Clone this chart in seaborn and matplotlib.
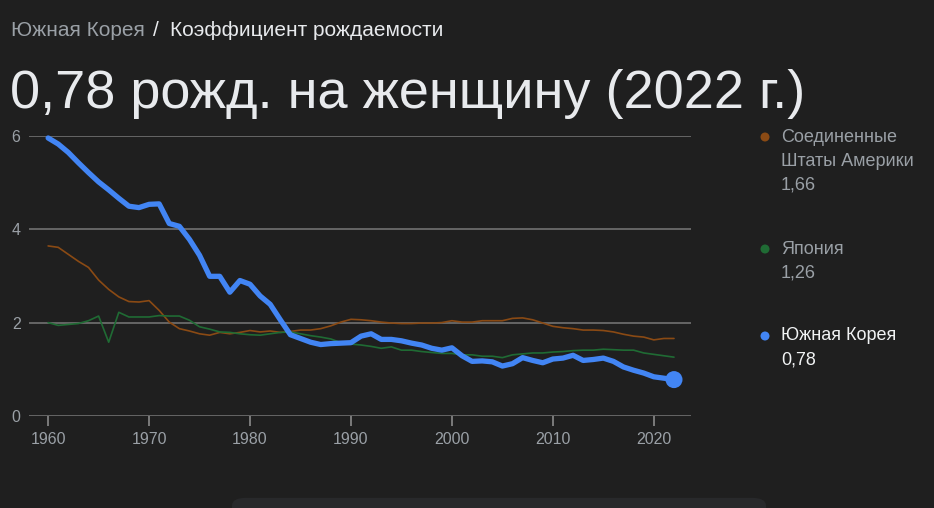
import pandas as pd
import matplotlib.pyplot as plt
import seaborn as sns
from matplotlib.patches import FancyBboxPatch, Ellipse

# Данные
years = list(range(1960, 2023))

korea = [5.95, 5.82, 5.64, 5.42, 5.21, 5.01, 4.84, 4.66, 4.49, 4.46,
         4.53, 4.54, 4.12, 4.06, 3.78, 3.44, 2.99, 2.99, 2.65, 2.90,
         2.82, 2.57, 2.39, 2.06, 1.74, 1.66, 1.58, 1.53, 1.55, 1.56,
         1.57, 1.71, 1.76, 1.64, 1.64, 1.61, 1.56, 1.52, 1.45, 1.41,
         1.46, 1.29, 1.17, 1.18, 1.16, 1.07, 1.12, 1.25, 1.19, 1.14,
         1.22, 1.24, 1.30, 1.19, 1.21, 1.24, 1.17, 1.05, 0.98, 0.92,
         0.84, 0.81, 0.78]

usa = [3.64, 3.61, 3.46, 3.31, 3.18, 2.91, 2.71, 2.55, 2.45, 2.44,
       2.47, 2.26, 2.01, 1.87, 1.82, 1.76, 1.73, 1.79, 1.76, 1.79,
       1.83, 1.80, 1.82, 1.79, 1.81, 1.84, 1.84, 1.87, 1.93, 2.01,
       2.07, 2.06, 2.04, 2.01, 1.99, 1.98, 1.98, 1.99, 1.99, 2.00,
       2.04, 2.01, 2.01, 2.04, 2.04, 2.04, 2.09, 2.10, 2.06, 1.99,
       1.92, 1.89, 1.87, 1.84, 1.84, 1.83, 1.80, 1.75, 1.71, 1.69,
       1.63, 1.66, 1.66]

japan = [2.00, 1.94, 1.96, 1.98, 2.04, 2.14, 1.58, 2.22, 2.12, 2.12,
         2.12, 2.15, 2.14, 2.14, 2.05, 1.91, 1.86, 1.80, 1.79, 1.76,
         1.74, 1.73, 1.76, 1.79, 1.80, 1.76, 1.72, 1.69, 1.65, 1.57,
         1.54, 1.52, 1.49, 1.45, 1.48, 1.41, 1.41, 1.38, 1.36, 1.34,
         1.34, 1.31, 1.31, 1.28, 1.28, 1.25, 1.31, 1.33, 1.35, 1.35,
         1.37, 1.38, 1.40, 1.41, 1.41, 1.43, 1.42, 1.41, 1.41, 1.35,
         1.32, 1.29, 1.26]

countries = ["Соединенные\nШтаты Америки", "Япония", "Южная Корея"]
last_values = ["1,66", "1,26", "0,78"]
y_ticks = [0, 2, 4, 6]
x_ticks = [1960, 1970, 1980, 1990, 2000, 2010, 2020]

df = pd.DataFrame({
    "Год": years * 3,
    "Значение": usa + japan + korea,
    "Страна": ["США"] * len(years) + ["Япония"] * len(years) + ["Корея"] * len(years),
})

bg = "#1f1f1f"
grey = "#9aa0a6"
c_usa = "#8a4a14"
c_jpn = "#1f6b34"
c_kor = "#4285f4"

sns.set_theme(style="dark")
plt.rcParams["font.family"] = ["Liberation Sans", "DejaVu Sans"]

fig = plt.figure(figsize=(9.34, 5.08), dpi=100, facecolor=bg)
ax = fig.add_axes([0.031, 0.181, 0.709, 0.552], facecolor=bg)

sns.lineplot(ax=ax, data=df[df["Страна"] == "США"], x="Год", y="Значение",
             color=c_usa, linewidth=1.2, legend=False)
sns.lineplot(ax=ax, data=df[df["Страна"] == "Япония"], x="Год", y="Значение",
             color=c_jpn, linewidth=1.2, legend=False)
sns.lineplot(ax=ax, data=df[df["Страна"] == "Корея"], x="Год", y="Значение",
             color=c_kor, linewidth=3.8, legend=False)
ax.lines[-1].set_clip_on(False)
sns.scatterplot(ax=ax, x=[years[-1]], y=[korea[-1]], color=c_kor, s=150,
                edgecolor="none", zorder=5, clip_on=False)

ax.set_xlim(1958.1, 2023.7)
ax.set_ylim(0, 6)
ax.set_xlabel("")
ax.set_ylabel("")
for s in ax.spines.values():
    s.set_visible(False)
ax.set_yticks(y_ticks)
ax.set_yticklabels([str(v) for v in y_ticks])
ax.set_xticks(x_ticks)
ax.set_xticklabels([str(v) for v in x_ticks])
ax.grid(False)
for v in y_ticks:
    ax.axhline(v, color="#6b6b6b", linewidth=1.3, zorder=0)
ax.tick_params(axis="y", left=False, length=0, pad=6, labelsize=11.5, labelcolor=grey)
ax.tick_params(axis="x", bottom=True, length=7.5, width=1.2, color="#8a8a8a", pad=4,
               labelsize=11.5, labelcolor=grey, direction="out")

# Заголовки
fig.text(11 / 934, 1 - 30 / 508, "Южная Корея", color=grey, fontsize=15, va="center")
fig.text(153 / 934, 1 - 30 / 508, "/", color="#e8eaed", fontsize=15, va="center")
fig.text(170 / 934, 1 - 30 / 508, "Коэффициент рождаемости", color="#e8eaed",
         fontsize=15, va="center")
fig.text(10 / 934, 1 - 94 / 508, "0,78 рожд. на женщину (2022 г.)", color="#e8eaed",
         fontsize=39, va="center")

# Легенда справа
leg_y = [137, 249, 336]
leg_c = [c_usa, c_jpn, c_kor]
leg_tc = [grey, grey, "#f1f3f4"]
for name, val, yy, c, tc in zip(countries, last_values, leg_y, leg_c, leg_tc):
    fig.add_artist(Ellipse((765 / 934, 1 - yy / 508), 9 / 934, 9 / 508,
                           transform=fig.transFigure, facecolor=c, edgecolor="none"))
    lines = name.split("\n") + [val]
    for k, t in enumerate(lines):
        fig.text(781 / 934, 1 - (yy + 24 * k) / 508, t, color=tc, fontsize=13, va="center")

# нижняя карточка
fig.patches.append(FancyBboxPatch((232 / 934, -0.02), 534 / 934, 0.04,
                                  boxstyle="round,pad=0,rounding_size=0.015",
                                  transform=fig.transFigure, facecolor="#28292b",
                                  edgecolor="none"))

fig.savefig("out.png", dpi=100, facecolor=bg)
